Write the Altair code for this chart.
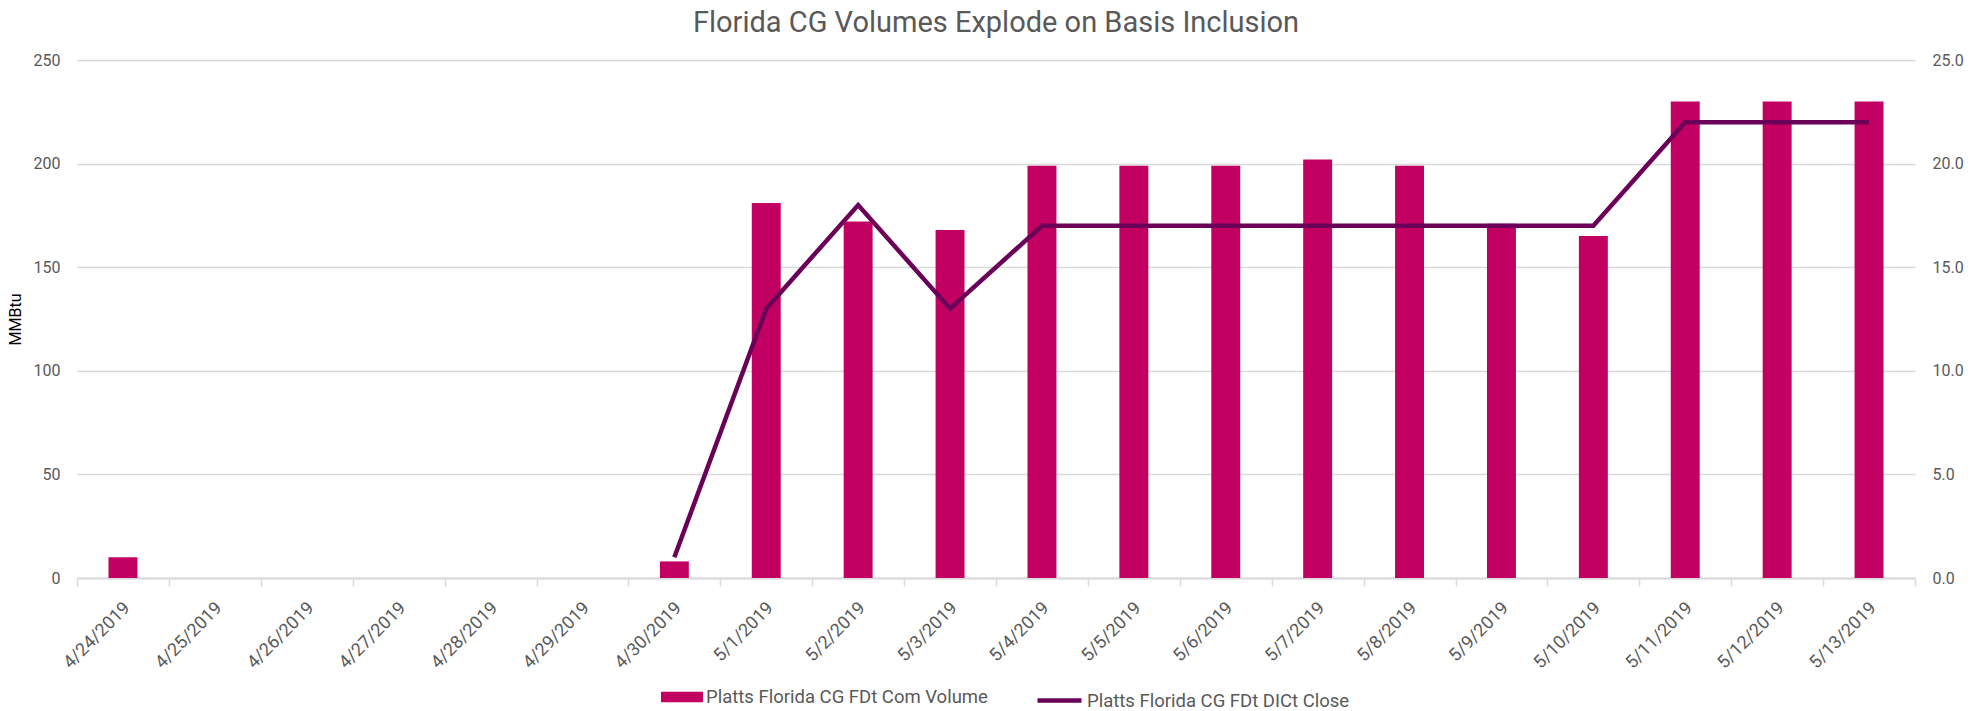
import altair as alt
import pandas as pd

dates = ["4/24/2019", "4/25/2019", "4/26/2019", "4/27/2019", "4/28/2019", "4/29/2019",
         "4/30/2019", "5/1/2019", "5/2/2019", "5/3/2019", "5/4/2019", "5/5/2019",
         "5/6/2019", "5/7/2019", "5/8/2019", "5/9/2019", "5/10/2019", "5/11/2019",
         "5/12/2019", "5/13/2019"]
volume = [10, None, None, None, None, None, 8, 181, 172, 168, 199, 199, 199, 202, 199,
          171, 165, 230, 230, 230]
close = [None, None, None, None, None, None, 1.0, 13.0, 18.0, 13.0, 17.0, 17.0, 17.0,
         17.0, 17.0, 17.0, 17.0, 22.0, 22.0, 22.0]

bar_name = "Platts Florida CG FDt Com Volume"
line_name = "Platts Florida CG FDt DICt Close"

bar_df = pd.DataFrame({"date": dates, "value": volume, "series": bar_name}).dropna()
line_df = pd.DataFrame({"date": dates, "value": close, "series": line_name}).dropna()

FONT = "Roboto"
GRAY = "#595959"
BAR_C = "#C20061"
LINE_C = "#6B0059"

x_enc = alt.X("date:N", sort=dates, title=None,
              scale=alt.Scale(domain=dates, paddingInner=0, paddingOuter=0),
              axis=alt.Axis(labelAngle=-45, labelFontSize=18, labelColor=GRAY, labelFont=FONT,
                            domainColor="#d9d9d9", domainWidth=2, tickColor="#d9d9d9", tickWidth=1.5,
                            tickSize=8, tickBand="extent", labelPadding=19, labelOffset=4,
                            grid=False, labelAlign="right", labelBaseline="middle"))

bars = alt.Chart(bar_df).mark_bar(width=alt.RelativeBandSize(0.315)).encode(
    x=x_enc,
    y=alt.Y("value:Q", title="MMBtu",
            scale=alt.Scale(domain=[0, 250]),
            axis=alt.Axis(values=[0, 50, 100, 150, 200, 250], labelFontSize=16, labelColor=GRAY,
                          labelFont=FONT, titleFont=FONT, titleFontSize=16, titleFontWeight="normal",
                          titleColor="#000000", domain=False, ticks=False, labelPadding=17,
                          gridColor="#d9d9d9", gridWidth=1.5, titlePadding=10)),
    fill=alt.Fill("series:N", title=None,
                  scale=alt.Scale(domain=[bar_name], range=[BAR_C]),
                  legend=alt.Legend(orient="none", legendX=584, legendY=616,
                                    symbolType="M-1,-0.25H1V0.25H-1Z", symbolSize=1764,
                                    symbolStrokeWidth=0, labelFontSize=18.5, labelColor=GRAY,
                                    labelFont=FONT, labelLimit=400, labelOffset=3)),
)

line = alt.Chart(line_df).mark_line(strokeWidth=4.5, color=LINE_C).encode(
    x=alt.X("date:N", sort=dates, scale=alt.Scale(domain=dates)),
    y=alt.Y("value:Q", title=None,
            scale=alt.Scale(domain=[0, 25]),
            axis=alt.Axis(orient="right", values=[0, 5, 10, 15, 20, 25], format=".1f",
                          labelFontSize=16, labelColor=GRAY, labelFont=FONT, domain=False,
                          ticks=False, grid=False, labelPadding=17)),
    stroke=alt.Stroke("series:N", title=None,
                      scale=alt.Scale(domain=[line_name], range=[LINE_C]),
                      legend=alt.Legend(orient="none", legendX=958, legendY=616,
                                        symbolType="stroke", symbolSize=1936,
                                        symbolStrokeWidth=4.5, labelFontSize=18.5, labelColor=GRAY,
                                        labelFont=FONT, labelLimit=400, labelOffset=3)),
)

chart = alt.layer(bars, line).resolve_scale(y="independent", fill="independent",
                                             stroke="independent").properties(
    width=1838, height=518,
    autosize=alt.AutoSizeParams(type="none"),
    padding={"left": 69, "top": 52, "right": 49, "bottom": 140},
    title=alt.TitleParams("Florida CG Volumes Explode on Basis Inclusion", fontSize=29,
                          font=FONT, fontWeight="normal", color=GRAY, anchor="middle",
                          offset=14),
).configure_view(stroke=None).configure_legend(symbolOffset=0)

chart.save("out.html", embed_options={"renderer": "svg", "actions": False})
